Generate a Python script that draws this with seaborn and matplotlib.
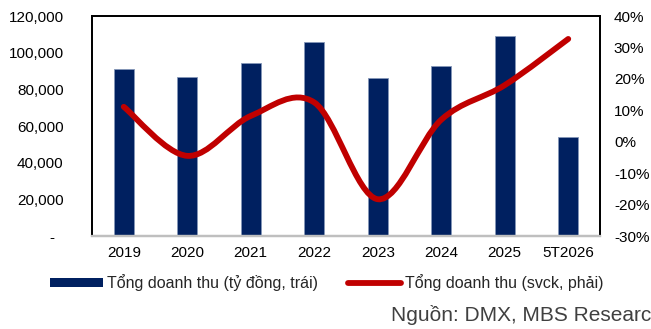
import matplotlib
matplotlib.use("Agg")
import matplotlib.pyplot as plt
from matplotlib.path import Path
from matplotlib.patches import PathPatch, Patch
from matplotlib.lines import Line2D
from matplotlib.ticker import FuncFormatter, MultipleLocator
import seaborn as sns
import pandas as pd
import numpy as np

# Revenue (bn VND, left axis) and YoY growth (%, right axis)
periods = ["2019", "2020", "2021", "2022", "2023", "2024", "2025", "5T2026"]
revenue = [91000, 86700, 94400, 105800, 86200, 92700, 109300, 54200]
growth = [11.1, -4.5, 8.2, 12.5, -18.3, 7.0, 18.0, 32.7]

bar_label = "Tổng doanh thu (tỷ đồng, trái)"
line_label = "Tổng doanh thu (svck, phải)"
source_text = "Nguồn: DMX, MBS Research"

NAVY = "#002060"
RED = "#C00000"
FONT = ["Liberation Sans", "DejaVu Sans"]

sns.set_theme(style="white")
plt.rcParams["font.family"] = FONT
plt.rcParams["font.size"] = 11

df = pd.DataFrame({"period": periods, "revenue": revenue, "growth": growth})

fig = plt.figure(figsize=(6.51, 3.29), dpi=100)
ax = fig.add_axes([92 / 651, 1 - 236 / 329, 508 / 651, 220 / 329])

sns.barplot(data=df, x="period", y="revenue", color=NAVY, width=0.31,
            edgecolor="#8497B8", linewidth=0.6, saturation=1, ax=ax)
ax.set_xlim(-0.5, len(periods) - 0.5)
ax.set_ylim(0, 120000)
ax.yaxis.set_major_locator(MultipleLocator(20000))
ax.yaxis.set_major_formatter(FuncFormatter(lambda v, p: "-  " if v == 0 else f"{v:,.0f}"))
ax.set_xlabel("")
ax.set_ylabel("")
ax.tick_params(axis="y", length=0, pad=20.5, labelsize=11, colors="black")
ax.tick_params(axis="x", length=0, pad=7, labelsize=11, colors="black")

ax2 = ax.twinx()
ax2.set_ylim(-30, 40)
ax2.yaxis.set_major_locator(MultipleLocator(10))
ax2.yaxis.set_major_formatter(FuncFormatter(lambda v, p: f"{v:.0f}%"))
ax2.tick_params(axis="y", length=0, pad=10, labelsize=11, colors="black")
ax2.grid(False)
ax.grid(False)

# Smoothed growth curve: cubic Bezier segments through each data point
xs = np.arange(len(growth), dtype=float)
ys = np.array(growth, dtype=float)
verts = [(xs[0], ys[0])]
codes = [Path.MOVETO]
n = len(xs)
for i in range(n - 1):
    i0 = max(i - 1, 0)
    i3 = min(i + 2, n - 1)
    c1 = (xs[i] + (xs[i + 1] - xs[i0]) / 6, ys[i] + (ys[i + 1] - ys[i0]) / 6)
    c2 = (xs[i + 1] - (xs[i3] - xs[i]) / 6, ys[i + 1] - (ys[i3] - ys[i]) / 6)
    verts += [c1, c2, (xs[i + 1], ys[i + 1])]
    codes += [Path.CURVE4] * 3
curve = PathPatch(Path(verts, codes), facecolor="none", edgecolor=RED,
                  linewidth=4.2, capstyle="round", joinstyle="round", zorder=5)
ax2.add_patch(curve)

for a in (ax, ax2):
    for side in ("left", "top", "right"):
        a.spines[side].set_visible(True)
        a.spines[side].set_color("black")
        a.spines[side].set_linewidth(1.3)
    a.spines["bottom"].set_color("#BFBFBF")
    a.spines["bottom"].set_linewidth(1.6)

handles = [
    Patch(facecolor=NAVY, edgecolor="none"),
    Line2D([0], [0], color=RED, linewidth=4.2, solid_capstyle="round"),
]
leg = fig.legend(handles, [bar_label, line_label], loc="center left",
                 bbox_to_anchor=(50 / 651, 1 - 283 / 329), ncol=2, frameon=False,
                 fontsize=11.5, handlelength=3.3, handleheight=0.45, handletextpad=0.25,
                 columnspacing=1.9, borderaxespad=0, borderpad=0)

fig.text(391 / 651, 1 - 315 / 329, source_text, fontsize=15, color="#404040",
         ha="left", va="center", family=FONT)

fig.savefig("out.png", dpi=100)
